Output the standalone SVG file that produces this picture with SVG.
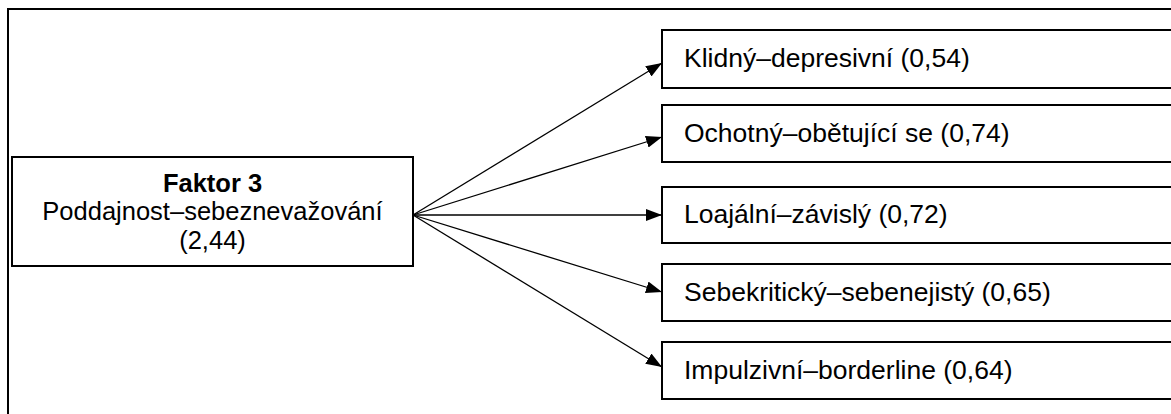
<svg xmlns="http://www.w3.org/2000/svg" width="1171" height="414" viewBox="0 0 1171 414">
<style>
.box{fill:#fff;stroke:#000;stroke-width:2}
.t{font-family:"Liberation Sans",Arial,sans-serif;font-size:26.5px;fill:#000}
.l{font-size:25.5px}
.c{text-anchor:middle}
.b{font-weight:bold}
.con{stroke:#000;stroke-width:1.3;fill:none;marker-end:url(#arr)}
</style>
<defs>
<marker id="arr" viewBox="0 0 16 12" refX="16" refY="6" markerWidth="16" markerHeight="12" markerUnits="userSpaceOnUse" orient="auto">
<path d="M0,0 L16,6 L0,12 Z" fill="#000"/>
</marker>
</defs>
<rect x="0" y="0" width="1171" height="414" fill="#fff"/>
<rect id="frame" x="8" y="9" width="1200" height="450" fill="none" stroke="#000" stroke-width="2"/>
<g id="connectors">
<line class="con" x1="413" y1="215" x2="662" y2="63"/>
<line class="con" x1="413" y1="215" x2="662" y2="137"/>
<line class="con" x1="413" y1="215" x2="662" y2="215"/>
<line class="con" x1="413" y1="215" x2="662" y2="292"/>
<line class="con" x1="413" y1="215" x2="662" y2="367"/>
</g>
<g id="factor">
<rect class="box" x="12" y="157" width="401" height="109"/>
<text class="t l c b" x="212.5" y="192">Faktor 3</text>
<text class="t l c" x="212.5" y="220">Poddajnost–sebeznevažování</text>
<text class="t l c" x="212.5" y="249">(2,44)</text>
</g>
<g id="n1">
<rect class="box" x="662" y="30" width="600" height="58"/>
<text class="t" x="684" y="67">Klidný–depresivní (0,54)</text>
</g>
<g id="n2">
<rect class="box" x="662" y="105" width="600" height="57"/>
<text class="t" x="684" y="142">Ochotný–obětující se (0,74)</text>
</g>
<g id="n3">
<rect class="box" x="662" y="187" width="600" height="56"/>
<text class="t" x="684" y="223">Loajální–závislý (0,72)</text>
</g>
<g id="n4">
<rect class="box" x="662" y="264" width="600" height="57"/>
<text class="t" x="684" y="301">Sebekritický–sebenejistý (0,65)</text>
</g>
<g id="n5">
<rect class="box" x="662" y="342" width="600" height="57"/>
<text class="t" x="684" y="379">Impulzivní–borderline (0,64)</text>
</g>
</svg>
